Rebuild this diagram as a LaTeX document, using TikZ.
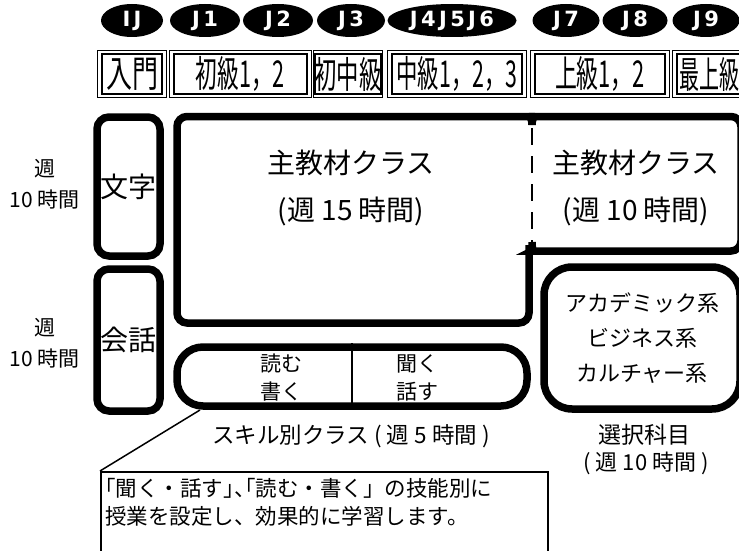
\documentclass[tikz,border=0pt]{standalone}
\usepackage{fontspec}
\setmainfont{Noto Sans CJK JP}
\newfontfamily\labfont{DejaVu Sans}[LetterSpace=16]
\newcommand\pal[1]{{\addfontfeature{RawFeature=+palt}#1}}
\usetikzlibrary{shapes.geometric}
\newcommand\lvlbox[5]{%
  \node[lvlout, minimum width=#3pt-1.4pt] (#1o) at (#2,74) {};
  \node[lvlin, minimum width=#3pt-10.4pt] (#1) at (#2,74) {\resizebox{#4pt}{\height}{#5}};}
\begin{document}
\begin{tikzpicture}[x=1pt,y=-1pt,
  lvltag/.style={ellipse, fill=black, inner sep=0pt, text=white, minimum height=33pt,
    font=\labfont\bfseries\fontsize{21}{21}\selectfont},
  lvlout/.style={draw, line width=1.4pt, inner sep=0pt, minimum height=46.6pt},
  lvlin/.style={draw, line width=2.4pt, inner sep=0pt, minimum height=39.6pt,
    font=\fontsize{37}{37}\selectfont},
  heavy/.style={line width=7.5pt},
  sidebox/.style={draw, heavy, rounded corners=12pt, inner sep=0pt, minimum width=63pt,
    font=\fontsize{28}{28}\selectfont},
  txt/.style={inner sep=0pt, align=center},
  big/.style={txt, font=\fontsize{28}{50}\selectfont},
  mid/.style={txt, font=\fontsize{21}{31}\selectfont},
]
\useasboundingbox (0,0) rectangle (739,551);

% level tags
\node[lvltag, minimum width=62pt]  (e0) at (132,20.5) {IJ};
\node[lvltag, minimum width=70pt]  (e1) at (205,20.5) {J1};
\node[lvltag, minimum width=70pt]  (e2) at (278,20.5) {J2};
\node[lvltag, minimum width=68pt]  (e3) at (351,20.5) {J3};
\node[lvltag, minimum width=129pt] (e4) at (452,20.5) {J4J5J6};
\node[lvltag, minimum width=67pt]  (e5) at (566,20.5) {J7};
\node[lvltag, minimum width=65pt]  (e6) at (635,20.5) {J8};
\node[lvltag, minimum width=67pt]  (e7) at (706,20.5) {J9};

% level boxes
\lvlbox{l0}{132}{70}{52}{入門}
\lvlbox{l1}{240.5}{143}{89}{初級1，2}
\lvlbox{l2}{348}{70}{67}{初中級}
\lvlbox{l3}{457}{140}{121}{中級1，2，3}
\lvlbox{l4}{600}{140}{90}{上級1，2}
\node[lvlout, minimum width=138.6pt] (l5o) at (742,74) {};
\node[lvlin, minimum width=129.6pt] (l5) at (742,74) {};
\node[txt, anchor=west, font=\fontsize{37}{37}\selectfont] (l5t) at (679,74) {\resizebox{60pt}{\height}{最上級}};

% side boxes
\node[mid] (w1) at (45,184.5) {週\\10 時間};
\node[mid] (w2) at (45,343) {週\\10 時間};
\node[sidebox, minimum height=139pt] (moji) at (128.5,186.5) {文字};
\node[sidebox, minimum height=142pt] (kaiwa) at (128.5,340) {会話};

% main class boxes
\draw[heavy, rounded corners=10pt] (529,245) -- (529,323) -- (177,323) -- (177,116.5) -- (520,116.5)
  .. controls (529,116.5) and (532,118) .. (532,125);
\draw[heavy, rounded corners=10pt] (532,125) .. controls (532,118) and (535,116.5) .. (544,116.5)
  -- (741,116.5) -- (741,251) -- (542,251) .. controls (534,251) and (532,249) .. (532,242);
\draw[line width=2.6pt, dash pattern=on 17pt off 11pt] (532,128) -- (532,242);
\node[big] (m1) at (351,162.5) {主教材クラス};
\node[big] (m1h) at (351,211) {(週 15 時間)};
\node[big] (m2) at (636,162.5) {主教材クラス};
\node[big] (m2h) at (636,211) {(週 10 時間)};

% skill box
\node[draw, heavy, rounded corners=26pt, minimum width=350pt, minimum height=59pt] (skill) at (352,376.5) {};
\draw[line width=1.5pt] (skill.north) -- (skill.south);
\node[txt, font=\fontsize{21}{28}\selectfont] (rw) at (281.5,378) {読む\\書く};
\node[txt, font=\fontsize{21}{28}\selectfont] (ls) at (417,378) {聞く\\話す};
\node[txt, font=\fontsize{22.5}{28}\selectfont] (skl) at (351,436) {スキル別クラス ( 週 5 時間 )};

% elective box
\node[draw, heavy, rounded corners=28pt, minimum width=196pt, minimum height=142pt, align=center,
  inner sep=0pt, font=\fontsize{22}{35}\selectfont] (elec) at (642,338) {アカデミック系\\ビジネス系\\カルチャー系};
\node[txt, font=\fontsize{23}{28}\selectfont] (elt) at (644,435) {選択科目};
\node[txt, font=\fontsize{22}{28}\selectfont] (elh) at (646,463) {( 週 10 時間 )};

% callout
\coordinate (ptr) at (200,410);
\node[draw, line width=1.5pt, anchor=north west, minimum width=447pt, minimum height=100pt, inner sep=0pt] (note) at (100,471) {};
\draw[line width=1.5pt] (note.north west) -- (ptr);
\node[txt, anchor=west, align=left, font=\fontsize{21.5}{28}\selectfont] (notet) at (105,502)
  {\pal{「}聞く・話す\pal{」、「}読む・書く」の技能別に\\授業を設定し、効果的に学習します。};
\end{tikzpicture}
\end{document}
